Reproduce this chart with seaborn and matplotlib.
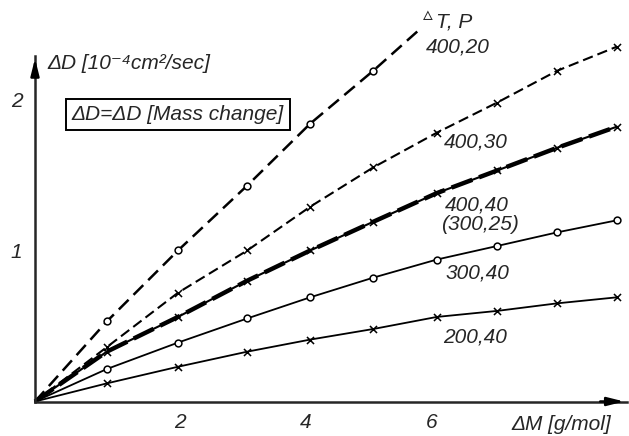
import pandas as pd
import matplotlib.pyplot as plt
import seaborn as sns

# values (x in tick units, y in 10^-4 cm^2/sec)
dm_origin = -0.3
dm = [0.84, 1.97, 3.07, 4.07, 5.07, 6.08, 7.04, 7.99, 8.94]

d_200_40 = [0.12, 0.23, 0.33, 0.41, 0.48, 0.56, 0.60, 0.65, 0.69]
d_300_40 = [0.215, 0.39, 0.55, 0.69, 0.82, 0.94, 1.03, 1.12, 1.20]
d_400_40 = [0.33, 0.56, 0.80, 1.00, 1.19, 1.38, 1.53, 1.68, 1.82]
d_400_30 = [0.36, 0.72, 1.00, 1.29, 1.55, 1.78, 1.98, 2.19, 2.35]
d_400_20 = [0.53, 1.00, 1.43, 1.84, 2.19]
end_400_20 = (5.85, 2.48)

x_ticks = [2, 4, 6, 8]
x_tick_labels = ['2', '4', '6', '']
y_ticks = [1, 2]
y_tick_labels = ['1', '2']
y_minor = [0.5, 1.5]

sns.set_style("white")
plt.rcParams['font.family'] = ['Liberation Sans Narrow', 'Liberation Sans', 'DejaVu Sans']
plt.rcParams['font.style'] = 'italic'

fig = plt.figure(figsize=(6.29, 4.36), dpi=100)
ax = fig.add_axes([35 / 629, 34.5 / 436, 592 / 629, 345.8 / 436])


def curve(vals, xs=dm, extra=None):
    x = [dm_origin] + list(xs[:len(vals)])
    y = [0.0] + list(vals)
    if extra is not None:
        x.append(extra[0])
        y.append(extra[1])
    return pd.DataFrame({'dM': x, 'dD': y})


def marks(vals, xs=dm):
    return pd.DataFrame({'dM': xs[:len(vals)], 'dD': vals})


# lines
sns.lineplot(data=curve(d_400_20, extra=end_400_20), x='dM', y='dD', ax=ax, sort=False,
             color='black', lw=1.8, linestyle=(0, (5.5, 2.8)), clip_on=False)
sns.lineplot(data=curve(d_400_30), x='dM', y='dD', ax=ax, sort=False,
             color='black', lw=1.5, linestyle=(0, (5.0, 2.4)), clip_on=False)
sns.lineplot(data=curve(d_400_40), x='dM', y='dD', ax=ax, sort=False,
             color='black', lw=1.5, clip_on=False)
sns.lineplot(data=curve(d_400_40), x='dM', y='dD', ax=ax, sort=False,
             color='black', lw=3.2, linestyle=(0, (5, 1.6)), clip_on=False)
sns.lineplot(data=curve(d_300_40), x='dM', y='dD', ax=ax, sort=False,
             color='black', lw=1.3, clip_on=False)
sns.lineplot(data=curve(d_200_40), x='dM', y='dD', ax=ax, sort=False,
             color='black', lw=1.3, clip_on=False)

# markers
for vals in [d_400_20, d_300_40]:
    sns.scatterplot(data=marks(vals), x='dM', y='dD', ax=ax, marker='o', s=24,
                    color='white', edgecolor='black', linewidth=1.1, zorder=5, clip_on=False)
for vals in [d_400_30, d_400_40, d_200_40]:
    sns.scatterplot(data=marks(vals), x='dM', y='dD', ax=ax, marker='x', s=26,
                    color='black', linewidth=1.1, zorder=5, clip_on=False)

ax.set_xlim(dm_origin, 9.1)
ax.set_ylim(0, 2.29)
ax.set_xlabel('')
ax.set_ylabel('')

ax.set_xticks(x_ticks, labels=x_tick_labels)
ax.set_yticks(y_ticks, labels=y_tick_labels)
ax.set_yticks(y_minor, minor=True)
ax.tick_params(axis='x', direction='in', length=5, width=1.3, pad=8, labelsize=15)
ax.tick_params(axis='y', which='both', direction='in', length=5, width=1.3, pad=9, labelsize=15)

for s in ['top', 'right']:
    ax.spines[s].set_visible(False)
for s in ['left', 'bottom']:
    ax.spines[s].set_linewidth(1.8)

# axis arrows
ax.annotate('', xy=(1.0, 0), xycoords='axes fraction', xytext=(0.95, 0),
            arrowprops=dict(arrowstyle='-|>,head_length=1.0,head_width=0.25', color='black', lw=1.8))
ax.annotate('', xy=(0, 1.0), xycoords='axes fraction', xytext=(0, 0.93),
            arrowprops=dict(arrowstyle='-|>,head_length=1.0,head_width=0.25', color='black', lw=1.8))

# labels
ax.text(-0.11, 2.24, 'ΔD [10⁻⁴cm²/sec]', fontsize=15, ha='left', va='center')
ax.text(8.05, -0.155, 'ΔM [g/mol]', fontsize=15, ha='center', va='center', clip_on=False)
ax.text(1.97, 1.90, 'ΔD=ΔD [Mass change]', fontsize=15, ha='center', va='center',
        bbox=dict(boxstyle='square,pad=0.3', fc='white', ec='black', lw=1.4))

ax.text(5.94, 2.56, '▵', fontsize=14, ha='center', va='center', family='DejaVu Sans')
ax.text(6.07, 2.51, 'T, P', fontsize=15, ha='left', va='center')
ax.text(6.42, 2.35, '400,20', fontsize=15, ha='center', va='center')
ax.text(6.70, 1.72, '400,30', fontsize=15, ha='center', va='center')
ax.text(6.72, 1.30, '400,40', fontsize=15, ha='center', va='center')
ax.text(6.77, 1.17, '(300,25)', fontsize=15, ha='center', va='center')
ax.text(6.72, 0.85, '300,40', fontsize=15, ha='center', va='center')
ax.text(6.69, 0.43, '200,40', fontsize=15, ha='center', va='center')

fig.savefig('out.png', dpi=100)
